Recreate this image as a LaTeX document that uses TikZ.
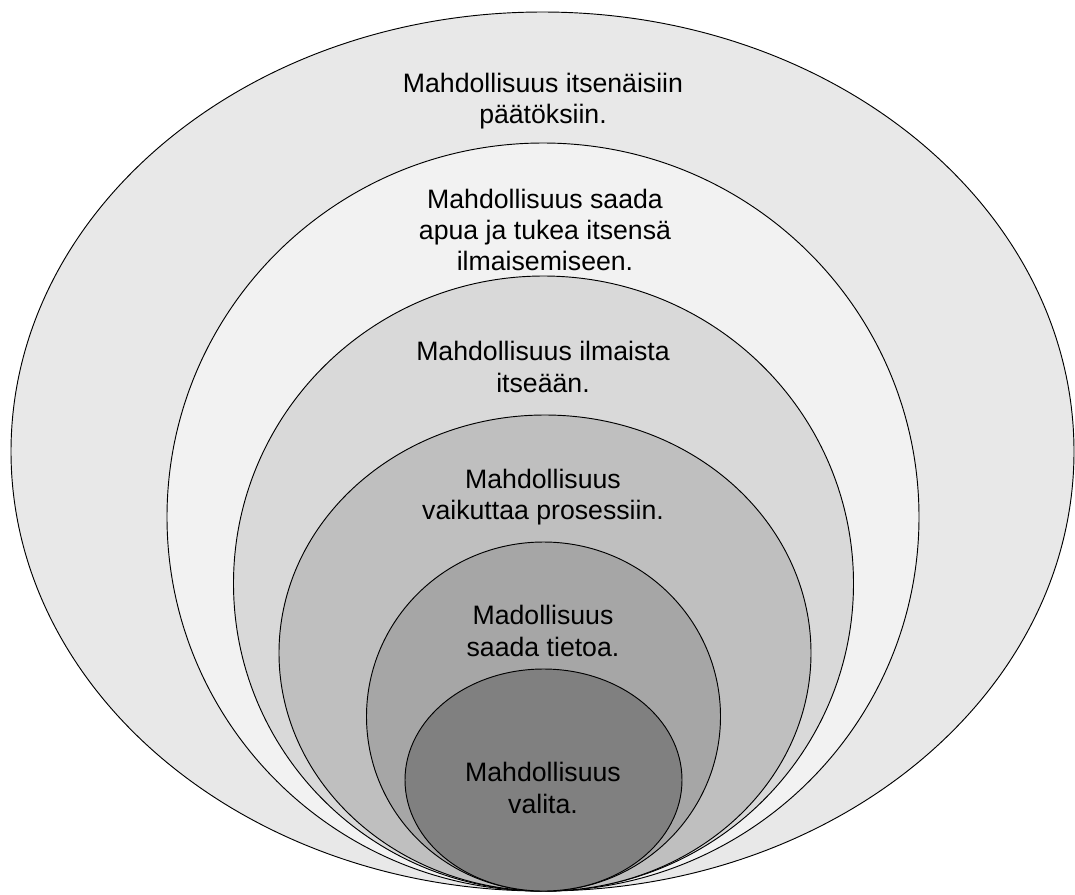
\documentclass[tikz,border=0pt]{standalone}
\usepackage{fontspec}
\setmainfont{Liberation Sans}
\definecolor{c1}{HTML}{E8E8E8}
\definecolor{c2}{HTML}{F2F2F2}
\definecolor{c3}{HTML}{D9D9D9}
\definecolor{c4}{HTML}{BFBFBF}
\definecolor{c5}{HTML}{A6A6A6}
\definecolor{c6}{HTML}{808080}
\begin{document}
\begin{tikzpicture}[x=0.75pt,y=-0.75pt,
  ring/.style={draw=black,line width=0.7pt},
  lbl/.style={align=center,font=\fontsize{20}{23.5}\selectfont,text=black,inner sep=0pt}]
\useasboundingbox[fill=white] (0,0) rectangle (1075,894);
\path[ring,fill=c1] (542.5,451.5) ellipse [x radius=531.5*0.75pt, y radius=439.5*0.75pt];
\path[ring,fill=c2] (543,517) ellipse [x radius=376*0.75pt, y radius=374*0.75pt];
\path[ring,fill=c3] (543.5,583.5) ellipse [x radius=310*0.75pt, y radius=307.5*0.75pt];
\path[ring,fill=c4] (545,653) ellipse [x radius=266*0.75pt, y radius=238*0.75pt];
\path[ring,fill=c5] (543.5,716.5) ellipse [x radius=177*0.75pt, y radius=174.5*0.75pt];
\path[ring,fill=c6] (543.5,780) ellipse [x radius=138.5*0.75pt, y radius=111*0.75pt];
\node[lbl] (t1) at (543,101) {Mahdollisuus itsenäisiin\\päätöksiin.};
\node[lbl] (t2) at (545,230) {Mahdollisuus saada\\apua ja tukea itsensä\\ilmaisemiseen.};
\node[lbl] (t3) at (543,367) {Mahdollisuus ilmaista\\itseään.};
\node[lbl] (t4) at (543,497) {Mahdollisuus\\vaikuttaa prosessiin.};
\node[lbl] (t5) at (543,631) {Madollisuus\\saada tietoa.};
\node[lbl] (t6) at (543,788) {Mahdollisuus\\valita.};
\end{tikzpicture}
\end{document}
